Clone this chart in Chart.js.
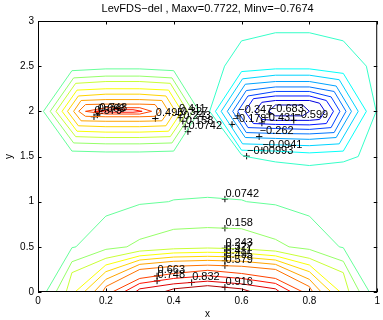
<!DOCTYPE html>
<html><head><meta charset="utf-8">
<script src="https://cdn.jsdelivr.net/npm/chart.js@4.4.1/dist/chart.umd.min.js"></script>
<style>html,body{margin:0;padding:0;background:#fff;overflow:hidden}</style>
</head><body><canvas id="c" width="383" height="320"></canvas>
<script>
// ---- axes / tick labels ----
const xTicks = [0, 0.2, 0.4, 0.6, 0.8, 1];
const xTickLabels = ['0', '0.2', '0.4', '0.6', '0.8', '1'];
const yTicks = [0, 0.5, 1, 1.5, 2, 2.5, 3];
const yTickLabels = ['0', '0.5', '1', '1.5', '2', '2.5', '3'];
const titleText = 'LevFDS\u2212del , Maxv=0.7722, Minv=\u22120.7674';

// ---- contour levels and colours ----
const levels = [-0.683, -0.599, -0.515, -0.431, -0.347, -0.262, -0.178, -0.0941, -0.00993,
  0.0742, 0.158, 0.243, 0.327, 0.411, 0.495, 0.579, 0.663, 0.748, 0.832, 0.916];
const levelColors = ['rgb(0,0,176)', 'rgb(0,0,224)', 'rgb(0,18,255)', 'rgb(0,66,255)', 'rgb(0,115,255)',
  'rgb(0,163,255)', 'rgb(0,212,255)', 'rgb(5,255,250)', 'rgb(54,255,201)', 'rgb(102,255,153)',
  'rgb(150,255,105)', 'rgb(201,255,54)', 'rgb(250,255,5)', 'rgb(255,212,0)', 'rgb(255,163,0)',
  'rgb(255,115,0)', 'rgb(255,66,0)', 'rgb(255,18,0)', 'rgb(224,0,0)', 'rgb(176,0,0)'];

// ---- bottom contour lines (x, y) ----
const B0742 = [[0.024,0],[0.1,0.49],[0.112,0.5],[0.2,0.84],[0.3,0.97],[0.385,1.0],[0.4,1.02],[0.5,1.048],[0.6,1.02],[0.615,1.0],[0.7,0.965],[0.8,0.84],[0.888,0.5],[0.9,0.49],[0.977,0]];
const B158 = [[0.053,0],[0.1,0.335],[0.2,0.472],[0.262,0.5],[0.3,0.583],[0.4,0.694],[0.5,0.713],[0.6,0.70],[0.7,0.583],[0.74,0.5],[0.8,0.472],[0.9,0.34],[0.948,0]];
const B243 = [[0.083,0],[0.1,0.214],[0.2,0.373],[0.3,0.453],[0.4,0.478],[0.5,0.487],[0.6,0.478],[0.7,0.453],[0.8,0.373],[0.9,0.214],[0.917,0]];
const B327 = [[0.109,0],[0.2,0.299],[0.3,0.40],[0.4,0.432],[0.5,0.44],[0.6,0.432],[0.7,0.40],[0.8,0.299],[0.891,0]];
const B411 = [[0.136,0],[0.2,0.225],[0.3,0.354],[0.4,0.387],[0.5,0.395],[0.6,0.387],[0.7,0.354],[0.8,0.225],[0.864,0]];
const B495 = [[0.165,0],[0.2,0.14],[0.3,0.306],[0.4,0.34],[0.5,0.35],[0.6,0.34],[0.7,0.306],[0.8,0.14],[0.835,0]];
const B579 = [[0.19,0],[0.2,0.06],[0.3,0.25],[0.4,0.285],[0.5,0.297],[0.6,0.285],[0.7,0.25],[0.8,0.06],[0.81,0]];
const B663 = [[0.219,0],[0.3,0.15],[0.4,0.205],[0.5,0.24],[0.6,0.205],[0.7,0.15],[0.781,0]];
const B748 = [[0.253,0],[0.3,0.095],[0.4,0.15],[0.5,0.18],[0.6,0.15],[0.7,0.095],[0.747,0]];
const B832 = [[0.287,0],[0.3,0.035],[0.4,0.09],[0.5,0.12],[0.6,0.09],[0.7,0.035],[0.713,0]];
const B916 = [[0.37,0],[0.4,0.035],[0.5,0.07],[0.6,0.035],[0.63,0]];

// ---- upper-left (positive) rings ----
const L0742 = [[0.016,2],[0.1,2.45],[0.2,2.47],[0.3,2.47],[0.4,2.45],[0.475,2],[0.4,1.56],[0.3,1.55],[0.2,1.55],[0.1,1.56],[0.016,2]];
const L158 = [[0.036,2],[0.105,2.37],[0.2,2.39],[0.3,2.39],[0.395,2.37],[0.457,2],[0.395,1.65],[0.3,1.64],[0.2,1.64],[0.105,1.65],[0.036,2]];
const L243 = [[0.053,2],[0.111,2.31],[0.2,2.33],[0.3,2.33],[0.39,2.31],[0.441,2],[0.39,1.72],[0.3,1.71],[0.2,1.71],[0.111,1.72],[0.053,2]];
const L327 = [[0.071,2],[0.115,2.235],[0.2,2.25],[0.3,2.25],[0.385,2.235],[0.424,2],[0.385,1.78],[0.3,1.77],[0.2,1.77],[0.115,1.78],[0.071,2]];
const L411 = [[0.087,2],[0.119,2.17],[0.2,2.19],[0.3,2.19],[0.377,2.17],[0.405,2],[0.377,1.84],[0.3,1.83],[0.2,1.83],[0.119,1.84],[0.087,2]];
const L495 = [[0.105,2],[0.127,2.12],[0.2,2.13],[0.3,2.13],[0.365,2.12],[0.385,2],[0.365,1.895],[0.3,1.89],[0.2,1.89],[0.127,1.895],[0.105,2]];
const L579 = [[0.12,2],[0.14,2.075],[0.2,2.08],[0.3,2.08],[0.345,2.075],[0.36,2],[0.345,1.945],[0.3,1.94],[0.2,1.94],[0.14,1.945],[0.12,2]];
const L663 = [[0.14,2],[0.2,2.04],[0.3,2.04],[0.335,2],[0.3,1.97],[0.2,1.97],[0.14,2]];
const L748 = [[0.165,2],[0.22,2.018],[0.28,2.018],[0.307,2],[0.28,1.99],[0.22,1.99],[0.165,2]];

// ---- upper-right (negative) rings ----
const R00993 = [[0.506,2],[0.55,2.5],[0.6,2.78],[0.7,2.87],[0.8,2.87],[0.9,2.78],[0.968,2.5],[0.997,2],[0.944,1.5],[0.9,1.44],[0.8,1.4],[0.7,1.44],[0.612,1.5],[0.6,1.52],[0.506,2]];
const R0941 = [[0.523,2],[0.6,2.44],[0.7,2.47],[0.8,2.47],[0.9,2.42],[0.968,2],[0.9,1.56],[0.8,1.54],[0.7,1.56],[0.6,1.57],[0.523,2]];
const R178 = [[0.54,2],[0.603,2.36],[0.7,2.40],[0.8,2.40],[0.888,2.35],[0.944,2],[0.888,1.64],[0.8,1.62],[0.7,1.63],[0.603,1.64],[0.54,2]];
const R262 = [[0.558,2],[0.611,2.30],[0.7,2.33],[0.8,2.33],[0.879,2.28],[0.924,2],[0.879,1.71],[0.8,1.69],[0.7,1.70],[0.611,1.71],[0.558,2]];
const R347 = [[0.574,2],[0.614,2.23],[0.7,2.27],[0.8,2.27],[0.873,2.22],[0.908,2],[0.873,1.765],[0.8,1.75],[0.7,1.755],[0.614,1.765],[0.574,2]];
const R431 = [[0.589,2],[0.619,2.17],[0.7,2.22],[0.8,2.22],[0.864,2.16],[0.89,2],[0.864,1.82],[0.8,1.80],[0.7,1.81],[0.619,1.82],[0.589,2]];
const R515 = [[0.61,2],[0.635,2.14],[0.7,2.17],[0.8,2.17],[0.85,2.12],[0.871,2],[0.85,1.865],[0.8,1.85],[0.7,1.855],[0.635,1.865],[0.61,2]];
const R599 = [[0.64,2],[0.66,2.10],[0.7,2.12],[0.8,2.12],[0.83,2.09],[0.846,2],[0.83,1.91],[0.8,1.90],[0.7,1.90],[0.66,1.91],[0.64,2]];
const R683 = [[0.68,2],[0.7,2.07],[0.78,2.07],[0.80,2],[0.78,1.95],[0.7,1.95],[0.68,2]];

// ---- contour labels ----
const labelText = ['0.0742','0.158','0.243','0.327','0.411','0.495','0.579','0.663','0.748','0.832','0.916',
  '0.579','0.663','0.748','0.495','0.411','0.327','0.243','0.158','0.0742',
  '\u22120.00993','\u22120.0941','\u22120.262','\u22120.178','\u22120.347','\u22120.431','\u22120.683','\u22120.599'];
const labelX = [0.551,0.551,0.551,0.551,0.551,0.551,0.551,0.351,0.351,0.453,0.551,
  0.165,0.175,0.18,0.346,0.414,0.419,0.427,0.434,0.442,
  0.615,0.66,0.652,0.572,0.589,0.66,0.682,0.754];
const labelY = [1.029,0.706,0.484,0.437,0.392,0.347,0.292,0.178,0.122,0.105,0.052,
  1.94,1.96,1.975,1.92,1.965,1.93,1.89,1.83,1.775,
  1.504,1.57,1.72,1.855,1.95,1.87,1.97,1.90];

const contourLines = [
  [0.0742, B0742], [0.158, B158], [0.243, B243], [0.327, B327], [0.411, B411], [0.495, B495],
  [0.579, B579], [0.663, B663], [0.748, B748], [0.832, B832], [0.916, B916],
  [0.0742, L0742], [0.158, L158], [0.243, L243], [0.327, L327], [0.411, L411], [0.495, L495],
  [0.579, L579], [0.663, L663], [0.748, L748],
  [-0.00993, R00993], [-0.0941, R0941], [-0.178, R178], [-0.262, R262], [-0.347, R347],
  [-0.431, R431], [-0.515, R515], [-0.599, R599], [-0.683, R683]
];

const FONT = '"Liberation Sans", Arial, Helvetica, sans-serif';

const datasets = contourLines.map(([lev, pts]) => ({
  data: pts.map(p => ({x: p[0], y: p[1]})),
  showLine: true, fill: false, tension: 0,
  borderColor: levelColors[levels.indexOf(lev)], borderWidth: 1,
  pointRadius: 0, pointHoverRadius: 0
}));
datasets.push({
  data: labelX.map((v, i) => ({x: v, y: labelY[i]})),
  showLine: false, pointStyle: 'cross', pointRadius: 3.2, pointHoverRadius: 3.2,
  borderColor: '#000', borderWidth: 1, backgroundColor: '#000'
});

const overlay = {
  id: 'overlay',
  beforeDraw(chart) {
    const ctx = chart.ctx;
    ctx.save(); ctx.fillStyle = '#fff'; ctx.fillRect(0, 0, chart.width, chart.height); ctx.restore();
  },
  afterDraw(chart) {
    const {ctx, chartArea: a, scales: {x, y}} = chart;
    ctx.save();
    ctx.font = '11px ' + FONT;
    ctx.fillStyle = '#000';
    ctx.textAlign = 'left';
    ctx.textBaseline = 'alphabetic';
    for (let i = 0; i < labelText.length; i++) {
      ctx.fillText(labelText[i], x.getPixelForValue(labelX[i]) + 0.5, y.getPixelForValue(labelY[i]) - 2.5);
    }
    // box
    ctx.strokeStyle = '#000'; ctx.lineWidth = 1;
    ctx.strokeRect(a.left + 0.5, a.top + 0.5, a.right - a.left - 1, a.bottom - a.top - 1);
    // inward ticks
    const tl = 3.5;
    ctx.beginPath();
    xTicks.forEach(v => {
      const px = Math.round(x.getPixelForValue(v)) + 0.5;
      ctx.moveTo(px, a.bottom); ctx.lineTo(px, a.bottom - tl);
      ctx.moveTo(px, a.top); ctx.lineTo(px, a.top + tl);
    });
    yTicks.forEach(v => {
      const py = Math.round(y.getPixelForValue(v)) + 0.5;
      ctx.moveTo(a.left, py); ctx.lineTo(a.left + tl, py);
      ctx.moveTo(a.right, py); ctx.lineTo(a.right - tl, py);
    });
    ctx.stroke();
    // title and axis labels
    ctx.textAlign = 'center';
    ctx.font = '11px ' + FONT;
    ctx.fillText(titleText, (a.left + a.right) / 2, 11.5);
    ctx.font = '10px ' + FONT;
    ctx.fillText('x', (a.left + a.right) / 2, 317);
    ctx.translate(11.5, (a.top + a.bottom) / 2);
    ctx.rotate(-Math.PI / 2);
    ctx.fillText('y', 0, 0);
    ctx.restore();
  }
};

new Chart(document.getElementById('c').getContext('2d'), {
  type: 'scatter',
  data: {datasets},
  options: {
    responsive: false, animation: false, devicePixelRatio: 1,
    layout: {padding: {top: 21, right: 2, left: 0, bottom: 0}},
    plugins: {legend: {display: false}, tooltip: {enabled: false}, title: {display: false}},
    events: [],
    scales: {
      x: {
        type: 'linear', min: 0, max: 1,
        afterFit(s) { s.height = 28; },
        afterBuildTicks(s) { s.ticks = xTicks.map(v => ({value: v})); },
        grid: {display: false, drawTicks: false}, border: {display: false},
        ticks: {autoSkip: false, maxRotation: 0, padding: 3, color: '#000',
          font: {family: FONT, size: 10},
          callback: v => xTickLabels[xTicks.indexOf(v)]}
      },
      y: {
        type: 'linear', min: 0, max: 3,
        afterFit(s) { s.width = 38; },
        afterBuildTicks(s) { s.ticks = yTicks.map(v => ({value: v})); },
        grid: {display: false, drawTicks: false}, border: {display: false},
        ticks: {autoSkip: false, padding: 4, color: '#000',
          font: {family: FONT, size: 10},
          callback: v => yTickLabels[yTicks.indexOf(v)]}
      }
    }
  },
  plugins: [overlay]
});
</script>
</body></html>
